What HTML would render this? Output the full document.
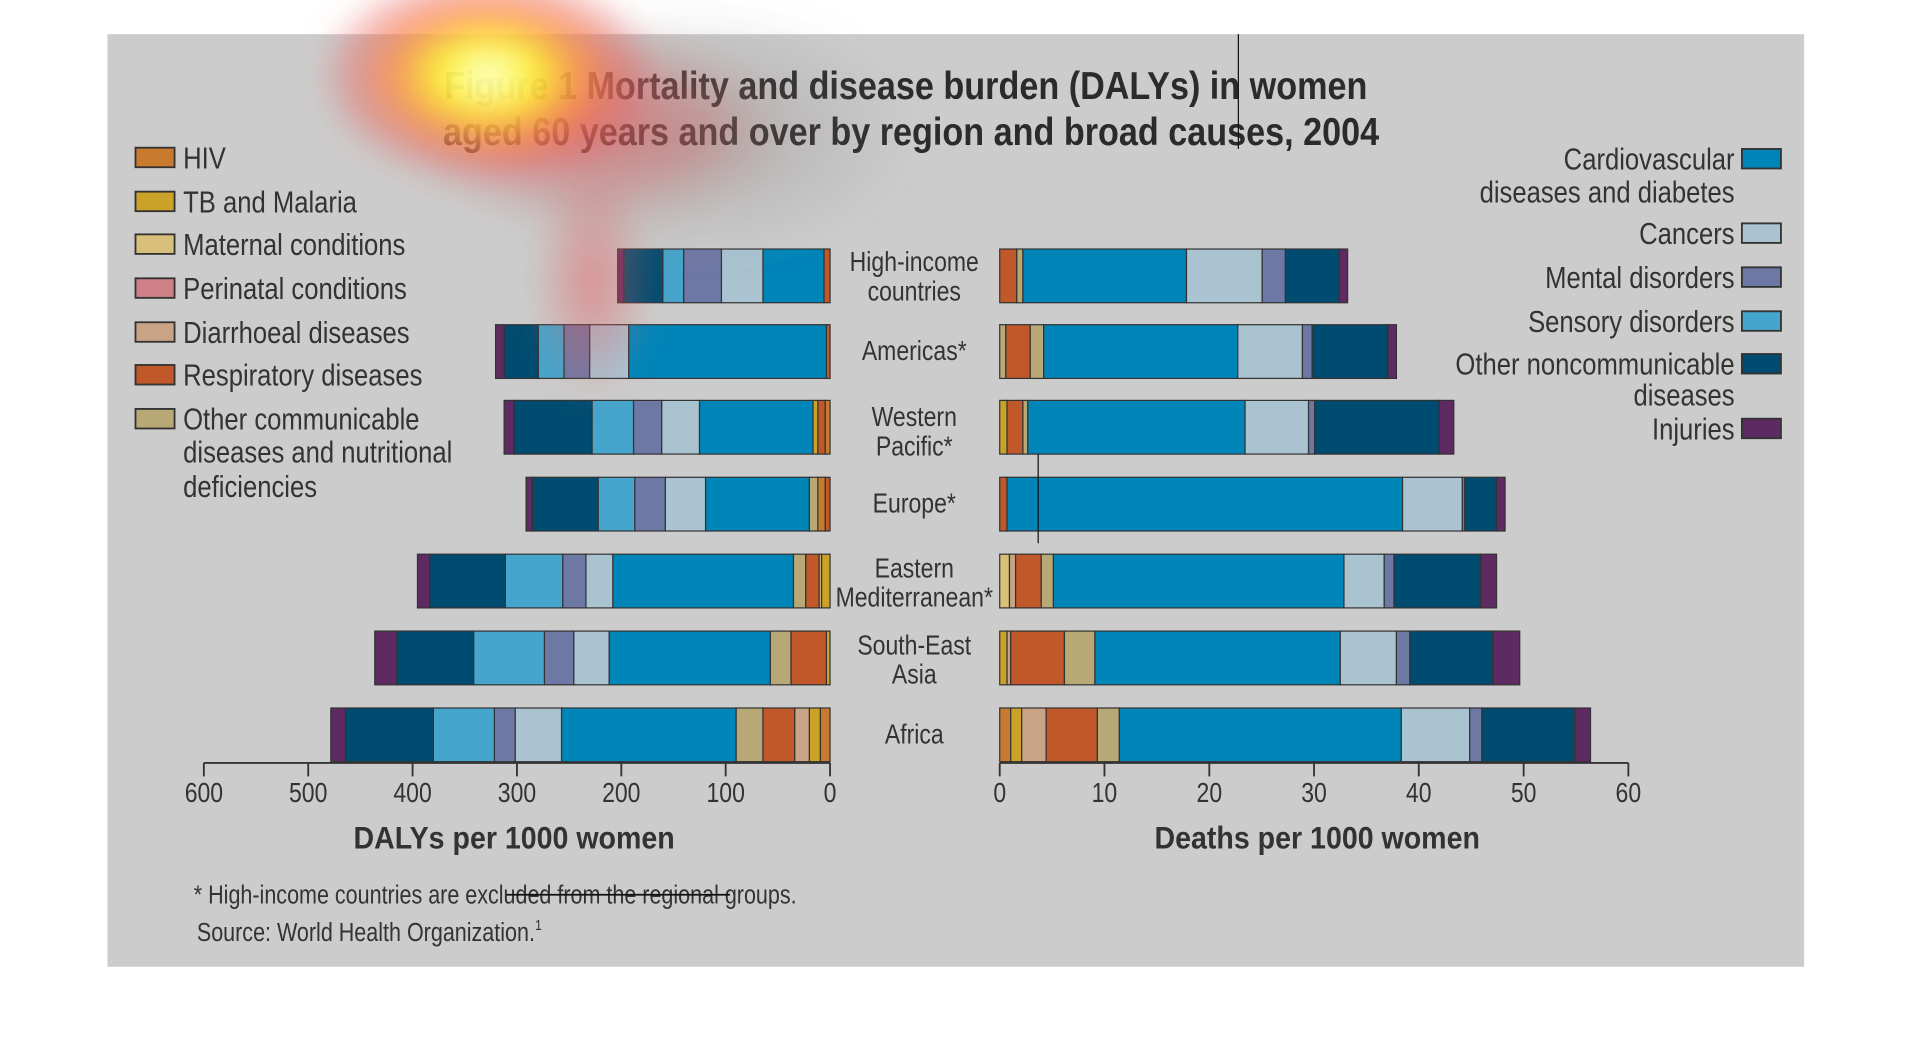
<!DOCTYPE html>
<html><head><meta charset="utf-8"><style>html,body{margin:0;padding:0;background:#fff;}svg{display:block}</style></head>
<body>
<svg width="1914" height="1062" viewBox="0 0 1568 870" preserveAspectRatio="none" xmlns="http://www.w3.org/2000/svg" font-family="Liberation Sans, sans-serif">
<defs>
<radialGradient id="hy" cx="0.5" cy="0.5" r="0.5">
<stop offset="0" stop-color="#ffffff" stop-opacity="0.95"/>
<stop offset="0.25" stop-color="#ffff30" stop-opacity="0.95"/>
<stop offset="0.55" stop-color="#ff8a40" stop-opacity="0.8"/>
<stop offset="0.8" stop-color="#e86060" stop-opacity="0.45"/>
<stop offset="1" stop-color="#e86060" stop-opacity="0"/>
</radialGradient>
<radialGradient id="hr" cx="0.5" cy="0.5" r="0.5">
<stop offset="0" stop-color="#e85050" stop-opacity="0.7"/>
<stop offset="0.6" stop-color="#e06060" stop-opacity="0.35"/>
<stop offset="1" stop-color="#c08080" stop-opacity="0"/>
</radialGradient>
<radialGradient id="hg" cx="0.5" cy="0.5" r="0.5">
<stop offset="0" stop-color="#806060" stop-opacity="0.35"/>
<stop offset="1" stop-color="#808080" stop-opacity="0"/>
</radialGradient>
<filter id="bl"><feGaussianBlur stdDeviation="12"/></filter>
</defs>
<rect x="88" y="28" width="1390" height="764" fill="#cccccc"/>

<g stroke="#333" stroke-width="1">
<rect x="675" y="204" width="5" height="44" fill="#c0582a"/><rect x="625" y="204" width="50" height="44" fill="#0085b8"/><rect x="591" y="204" width="34" height="44" fill="#a9c3d1"/><rect x="560" y="204" width="31" height="44" fill="#6e78a4"/><rect x="543" y="204" width="17" height="44" fill="#45a5cc"/><rect x="511" y="204" width="32" height="44" fill="#004c70"/><rect x="506" y="204" width="5" height="44" fill="#5e2a62"/>
<rect x="677" y="266" width="3" height="44" fill="#c0582a"/><rect x="515" y="266" width="162" height="44" fill="#0085b8"/><rect x="483" y="266" width="32" height="44" fill="#a9c3d1"/><rect x="462" y="266" width="21" height="44" fill="#6e78a4"/><rect x="441" y="266" width="21" height="44" fill="#45a5cc"/><rect x="413" y="266" width="28" height="44" fill="#004c70"/><rect x="406" y="266" width="7" height="44" fill="#5e2a62"/>
<rect x="676" y="328" width="4" height="44" fill="#c87a2e"/><rect x="670" y="328" width="6" height="44" fill="#c0582a"/><rect x="666" y="328" width="4" height="44" fill="#c9a227"/><rect x="573" y="328" width="93" height="44" fill="#0085b8"/><rect x="542" y="328" width="31" height="44" fill="#a9c3d1"/><rect x="519" y="328" width="23" height="44" fill="#6e78a4"/><rect x="485" y="328" width="34" height="44" fill="#45a5cc"/><rect x="421" y="328" width="64" height="44" fill="#004c70"/><rect x="413" y="328" width="8" height="44" fill="#5e2a62"/>
<rect x="676" y="391" width="4" height="44" fill="#c0582a"/><rect x="670" y="391" width="6" height="44" fill="#c87a2e"/><rect x="663" y="391" width="7" height="44" fill="#b8a876"/><rect x="578" y="391" width="85" height="44" fill="#0085b8"/><rect x="545" y="391" width="33" height="44" fill="#a9c3d1"/><rect x="520" y="391" width="25" height="44" fill="#6e78a4"/><rect x="490" y="391" width="30" height="44" fill="#45a5cc"/><rect x="436" y="391" width="54" height="44" fill="#004c70"/><rect x="431" y="391" width="5" height="44" fill="#5e2a62"/>
<rect x="673" y="454" width="7" height="44" fill="#c9a227"/><rect x="671" y="454" width="2" height="44" fill="#d9c07a"/><rect x="660" y="454" width="11" height="44" fill="#c0582a"/><rect x="650" y="454" width="10" height="44" fill="#b8a876"/><rect x="502" y="454" width="148" height="44" fill="#0085b8"/><rect x="480" y="454" width="22" height="44" fill="#a9c3d1"/><rect x="461" y="454" width="19" height="44" fill="#6e78a4"/><rect x="414" y="454" width="47" height="44" fill="#45a5cc"/><rect x="352" y="454" width="62" height="44" fill="#004c70"/><rect x="342" y="454" width="10" height="44" fill="#5e2a62"/>
<rect x="677" y="517" width="3" height="44" fill="#c9a227"/><rect x="648" y="517" width="29" height="44" fill="#c0582a"/><rect x="631" y="517" width="17" height="44" fill="#b8a876"/><rect x="499" y="517" width="132" height="44" fill="#0085b8"/><rect x="470" y="517" width="29" height="44" fill="#a9c3d1"/><rect x="446" y="517" width="24" height="44" fill="#6e78a4"/><rect x="388" y="517" width="58" height="44" fill="#45a5cc"/><rect x="325" y="517" width="63" height="44" fill="#004c70"/><rect x="307" y="517" width="18" height="44" fill="#5e2a62"/>
<rect x="672" y="580" width="8" height="44" fill="#c87a2e"/><rect x="663" y="580" width="9" height="44" fill="#c9a227"/><rect x="651" y="580" width="12" height="44" fill="#c9a386"/><rect x="625" y="580" width="26" height="44" fill="#c0582a"/><rect x="603" y="580" width="22" height="44" fill="#b8a876"/><rect x="460" y="580" width="143" height="44" fill="#0085b8"/><rect x="422" y="580" width="38" height="44" fill="#a9c3d1"/><rect x="405" y="580" width="17" height="44" fill="#6e78a4"/><rect x="355" y="580" width="50" height="44" fill="#45a5cc"/><rect x="283" y="580" width="72" height="44" fill="#004c70"/><rect x="271" y="580" width="12" height="44" fill="#5e2a62"/>

<rect x="819" y="204" width="14" height="44" fill="#c0582a"/><rect x="833" y="204" width="5" height="44" fill="#b8a876"/><rect x="838" y="204" width="134" height="44" fill="#0085b8"/><rect x="972" y="204" width="62" height="44" fill="#a9c3d1"/><rect x="1034" y="204" width="19" height="44" fill="#6e78a4"/><rect x="1053" y="204" width="44" height="44" fill="#004c70"/><rect x="1097" y="204" width="7" height="44" fill="#5e2a62"/>
<rect x="819" y="266" width="5" height="44" fill="#b8a876"/><rect x="824" y="266" width="20" height="44" fill="#c0582a"/><rect x="844" y="266" width="11" height="44" fill="#b8a876"/><rect x="855" y="266" width="159" height="44" fill="#0085b8"/><rect x="1014" y="266" width="53" height="44" fill="#a9c3d1"/><rect x="1067" y="266" width="8" height="44" fill="#6e78a4"/><rect x="1075" y="266" width="62" height="44" fill="#004c70"/><rect x="1137" y="266" width="7" height="44" fill="#5e2a62"/>
<rect x="819" y="328" width="6" height="44" fill="#c9a227"/><rect x="825" y="328" width="13" height="44" fill="#c0582a"/><rect x="838" y="328" width="4" height="44" fill="#b8a876"/><rect x="842" y="328" width="178" height="44" fill="#0085b8"/><rect x="1020" y="328" width="52" height="44" fill="#a9c3d1"/><rect x="1072" y="328" width="5" height="44" fill="#6e78a4"/><rect x="1077" y="328" width="102" height="44" fill="#004c70"/><rect x="1179" y="328" width="12" height="44" fill="#5e2a62"/>
<rect x="819" y="391" width="6" height="44" fill="#c0582a"/><rect x="825" y="391" width="324" height="44" fill="#0085b8"/><rect x="1149" y="391" width="49" height="44" fill="#a9c3d1"/><rect x="1198" y="391" width="2" height="44" fill="#6e78a4"/><rect x="1200" y="391" width="26" height="44" fill="#004c70"/><rect x="1226" y="391" width="7" height="44" fill="#5e2a62"/>
<rect x="819" y="454" width="8" height="44" fill="#d9c07a"/><rect x="827" y="454" width="5" height="44" fill="#c9a386"/><rect x="832" y="454" width="21" height="44" fill="#c0582a"/><rect x="853" y="454" width="10" height="44" fill="#b8a876"/><rect x="863" y="454" width="238" height="44" fill="#0085b8"/><rect x="1101" y="454" width="33" height="44" fill="#a9c3d1"/><rect x="1134" y="454" width="8" height="44" fill="#6e78a4"/><rect x="1142" y="454" width="71" height="44" fill="#004c70"/><rect x="1213" y="454" width="13" height="44" fill="#5e2a62"/>
<rect x="819" y="517" width="6" height="44" fill="#c9a227"/><rect x="825" y="517" width="3" height="44" fill="#c9a386"/><rect x="828" y="517" width="44" height="44" fill="#c0582a"/><rect x="872" y="517" width="25" height="44" fill="#b8a876"/><rect x="897" y="517" width="201" height="44" fill="#0085b8"/><rect x="1098" y="517" width="46" height="44" fill="#a9c3d1"/><rect x="1144" y="517" width="11" height="44" fill="#6e78a4"/><rect x="1155" y="517" width="68" height="44" fill="#004c70"/><rect x="1223" y="517" width="22" height="44" fill="#5e2a62"/>
<rect x="819" y="580" width="9" height="44" fill="#c87a2e"/><rect x="828" y="580" width="9" height="44" fill="#c9a227"/><rect x="837" y="580" width="20" height="44" fill="#c9a386"/><rect x="857" y="580" width="42" height="44" fill="#c0582a"/><rect x="899" y="580" width="18" height="44" fill="#b8a876"/><rect x="917" y="580" width="231" height="44" fill="#0085b8"/><rect x="1148" y="580" width="56" height="44" fill="#a9c3d1"/><rect x="1204" y="580" width="10" height="44" fill="#6e78a4"/><rect x="1214" y="580" width="76" height="44" fill="#004c70"/><rect x="1290" y="580" width="13" height="44" fill="#5e2a62"/>
</g>

<g stroke="#333" stroke-width="1.5" fill="none">
<path d="M167 625H680M819 625H1334"/>
<path d="M167 625v11M252.5 625v11M338 625v11M423.5 625v11M509 625v11M594.5 625v11M680 625v11"/>
<path d="M819 625v11M904.8 625v11M990.7 625v11M1076.5 625v11M1162.3 625v11M1248.2 625v11M1334 625v11"/>
</g>
<g fill="#333" font-size="23" text-anchor="middle">
<g transform="scale(0.82,1)">
<text x="203.7" y="657">600</text><text x="307.9" y="657">500</text><text x="412.2" y="657">400</text><text x="516.5" y="657">300</text><text x="620.7" y="657">200</text><text x="725" y="657">100</text><text x="829.3" y="657">0</text>
<text x="998.8" y="657">0</text><text x="1103.4" y="657">10</text><text x="1208.2" y="657">20</text><text x="1312.8" y="657">30</text><text x="1417.4" y="657">40</text><text x="1522.2" y="657">50</text><text x="1626.8" y="657">60</text>
<text x="913.4" y="222">High-income</text><text x="913.4" y="246">countries</text>
<text x="913.4" y="295">Americas*</text>
<text x="913.4" y="349">Western</text><text x="913.4" y="373">Pacific*</text>
<text x="913.4" y="420">Europe*</text>
<text x="913.4" y="473">Eastern</text><text x="913.4" y="497">Mediterranean*</text>
<text x="913.4" y="536">South-East</text><text x="913.4" y="560">Asia</text>
<text x="913.4" y="609">Africa</text>
</g>
<g transform="scale(0.9,1)" font-weight="bold" font-size="26">
<text x="468" y="695">DALYs per 1000 women</text>
<text x="1199" y="695">Deaths per 1000 women</text>
</g>
</g>

<g fill="#2b2b2b" font-weight="bold" font-size="32" text-anchor="middle" transform="scale(0.875,1)">
<text x="848" y="81">Figure 1 Mortality and disease burden (DALYs) in women</text>
<text x="853" y="119">aged 60 years and over by region and broad causes, 2004</text>
</g>

<g stroke="#333" stroke-width="1.5">
<rect x="111" y="121" width="32" height="16" fill="#c87a2e"/>
<rect x="111" y="157" width="32" height="16" fill="#c9a227"/>
<rect x="111" y="192" width="32" height="16" fill="#d9c07a"/>
<rect x="111" y="228" width="32" height="16" fill="#cf7f86"/>
<rect x="111" y="264" width="32" height="16" fill="#c9a386"/>
<rect x="111" y="299" width="32" height="16" fill="#c0582a"/>
<rect x="111" y="335" width="32" height="16" fill="#b8a876"/>
<rect x="1427" y="122" width="32" height="16" fill="#0085b8"/>
<rect x="1427" y="183" width="32" height="16" fill="#a9c3d1"/>
<rect x="1427" y="219" width="32" height="16" fill="#6e78a4"/>
<rect x="1427" y="255" width="32" height="16" fill="#45a5cc"/>
<rect x="1427" y="290" width="32" height="16" fill="#004c70"/>
<rect x="1427" y="343" width="32" height="16" fill="#5e2a62"/>
</g>
<g fill="#333" font-size="25">
<g transform="scale(0.84,1)">
<text x="178.6" y="138">HIV</text>
<text x="178.6" y="174">TB and Malaria</text>
<text x="178.6" y="209">Maternal conditions</text>
<text x="178.6" y="245">Perinatal conditions</text>
<text x="178.6" y="281">Diarrhoeal diseases</text>
<text x="178.6" y="316">Respiratory diseases</text>
<text x="178.6" y="352">Other communicable</text>
<text x="178.6" y="379">diseases and nutritional</text>
<text x="178.6" y="407">deficiencies</text>
<g text-anchor="end">
<text x="1691.7" y="139">Cardiovascular</text>
<text x="1691.7" y="166">diseases and diabetes</text>
<text x="1691.7" y="200">Cancers</text>
<text x="1691.7" y="236">Mental disorders</text>
<text x="1691.7" y="272">Sensory disorders</text>
<text x="1691.7" y="307">Other noncommunicable</text>
<text x="1691.7" y="332">diseases</text>
<text x="1691.7" y="360">Injuries</text>
</g>
<g font-size="21">
<text x="189" y="740">* High-income countries are excluded from the regional groups.</text>
<text x="192" y="771">Source: World Health Organization.<tspan font-size="12" dy="-9">1</tspan></text>
</g>
</g>
</g>

<g stroke="#111" stroke-width="1">
<path d="M1014.5 28V122M850.5 372V445"/>
<path d="M415 733H598" stroke-width="1.5"/>
</g>

<g filter="url(#bl)">
<ellipse cx="560" cy="110" rx="200" ry="110" fill="url(#hg)"/>
<ellipse cx="485" cy="230" rx="50" ry="100" fill="url(#hr)" opacity="0.7"/>
<ellipse cx="480" cy="105" rx="160" ry="85" fill="url(#hr)" opacity="0.8"/>
<ellipse cx="400" cy="62" rx="140" ry="90" fill="url(#hy)"/>
</g>
</svg>
</body></html>
